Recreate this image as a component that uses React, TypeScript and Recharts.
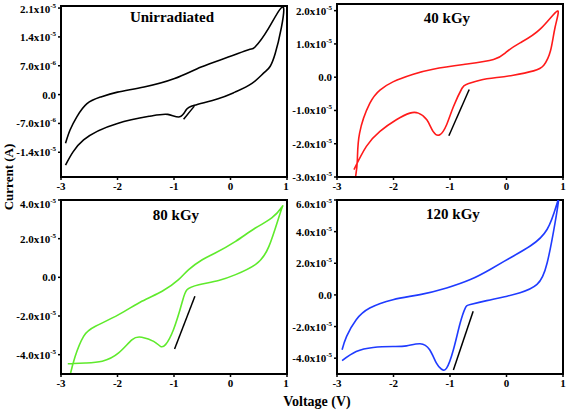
import React from "react";
import { LineChart, Line, XAxis, YAxis, ReferenceArea } from "recharts";

// Voltage (V) / Current (A), loops in scan order
const v0 = [-2.92, -2.6, -2.0, -1.41, -1.11, -0.9, -0.79, -0.64, -0.22, 0.08, 0.38, 0.61, 0.79, 0.94, 0.67, 0.43, 0.32, -0.04, -0.52, -0.99, -1.53, -2.0, -2.3, -2.54, -2.72, -2.84, -2.92];
const i0 = [-17.1e-6, -11.0e-6, -7.0e-6, -5.2e-6, -4.8e-6, -5.4e-6, -3.8e-6, -2.6e-6, -1.0e-6, 0.6e-6, 2.7e-6, 5.5e-6, 9.9e-6, 21.0e-6, 16.0e-6, 11.5e-6, 10.9e-6, 9.1e-6, 6.7e-6, 3.9e-6, 1.85e-6, 0.6e-6, -0.6e-6, -2.2e-6, -5.4e-6, -8.6e-6, -11.8e-6];
const arrowV0 = [-0.83, -0.64];
const arrowI0 = [-6.0e-6, -2.8e-6];

const v40 = [-2.67, -2.64, -2.6, -2.42, -2.24, -2.01, -1.65, -1.3, -0.76, -0.23, 0.0, 0.24, 0.6, 0.9, 0.86, 0.78, 0.66, 0.48, 0.12, -0.17, -0.47, -0.7, -0.79, -0.94, -1.06, -1.18, -1.3, -1.41, -1.56, -1.71, -1.95, -2.24, -2.48, -2.7];
const i40 = [-2.98e-5, -2.5e-5, -1.68e-5, -0.79e-5, -0.39e-5, -0.14e-5, 0.09e-5, 0.24e-5, 0.38e-5, 0.53e-5, 0.76e-5, 1.03e-5, 1.45e-5, 1.99e-5, 1.5e-5, 0.8e-5, 0.36e-5, 0.19e-5, 0.06e-5, -0.01e-5, -0.09e-5, -0.21e-5, -0.34e-5, -0.89e-5, -1.43e-5, -1.73e-5, -1.63e-5, -1.28e-5, -1.08e-5, -1.08e-5, -1.28e-5, -1.63e-5, -2.08e-5, -2.78e-5];
const arrowV40 = [-0.66, -1.02];
const arrowI40 = [-0.37e-5, -1.76e-5];

const v80 = [-2.83, -2.75, -2.6, -2.39, -1.98, -1.57, -1.21, -0.92, -0.74, -0.5, -0.27, 0.09, 0.44, 0.73, 0.91, 0.88, 0.68, 0.44, 0.09, -0.21, -0.56, -0.77, -0.86, -1.01, -1.15, -1.24, -1.36, -1.57, -1.74, -1.98, -2.27, -2.57, -2.88];
const i80 = [-4.95e-5, -4.09e-5, -3.05e-5, -2.53e-5, -1.93e-5, -1.24e-5, -0.72e-5, -0.12e-5, 0.4e-5, 0.91e-5, 1.26e-5, 1.86e-5, 2.55e-5, 3.07e-5, 3.64e-5, 3.33e-5, 1.6e-5, 0.66e-5, 0.14e-5, -0.16e-5, -0.38e-5, -0.64e-5, -1.33e-5, -2.71e-5, -3.48e-5, -3.57e-5, -3.31e-5, -3.1e-5, -3.22e-5, -3.91e-5, -4.34e-5, -4.43e-5, -4.47e-5];
const arrowV80 = [-0.63, -0.99];
const arrowI80 = [-0.98e-5, -3.71e-5];

const v120 = [-2.91, -2.83, -2.66, -2.42, -2.01, -1.53, -1.06, -0.64, -0.29, 0.07, 0.42, 0.72, 0.89, 0.92, 0.86, 0.72, 0.54, 0.24, 0.01, -0.35, -0.64, -0.73, -0.82, -0.94, -1.06, -1.15, -1.24, -1.36, -1.53, -1.77, -2.01, -2.36, -2.66, -2.91];
const i120 = [-3.47e-5, -2.62e-5, -1.57e-5, -0.83e-5, -0.3e-5, 0.02e-5, 0.44e-5, 0.97e-5, 1.61e-5, 2.35e-5, 3.09e-5, 4.15e-5, 5.74e-5, 5.95e-5, 4.57e-5, 2.03e-5, 0.66e-5, 0.13e-5, -0.08e-5, -0.36e-5, -0.61e-5, -0.83e-5, -1.78e-5, -3.47e-5, -4.63e-5, -4.7e-5, -4.32e-5, -3.47e-5, -3.09e-5, -3.22e-5, -3.26e-5, -3.32e-5, -3.58e-5, -4.15e-5];
const arrowV120 = [-0.59, -0.94];
const arrowI120 = [-1.04e-5, -4.74e-5];

const xTicks = [-3, -2, -1, 0, 1];
const yTicks0 = [-1.4e-5, -7.0e-6, 0, 7.0e-6, 1.4e-5, 2.1e-5];
const yTicks40 = [-3.0e-5, -2.0e-5, -1.0e-5, 0, 1.0e-5, 2.0e-5];
const yTicks80 = [-4.0e-5, -2.0e-5, 0, 2.0e-5, 4.0e-5];
const yTicks120 = [-4.0e-5, -2.0e-5, 0, 2.0e-5, 4.0e-5, 6.0e-5];

const titles = ["Unirradiated", "40 kGy", "80 kGy", "120 kGy"];
const FONT = "'Liberation Serif', 'Times New Roman', serif";

const zip = (xs: number[], ys: number[]) => xs.map((x, k) => ({ v: x, i: ys[k] }));

function fmt(val: number) {
  if (Math.abs(val) < 1e-12) return { m: "0.0", e: "" };
  const e = Math.floor(Math.log10(Math.abs(val)) + 1e-9);
  const m = (val / Math.pow(10, e)).toFixed(1);
  return { m: m + "x10", e: String(e) };
}

const YTick = (props: any) => {
  const { x, y, payload } = props;
  const f = fmt(payload.value);
  return (
    <text x={x} y={y + 4} textAnchor="end" fontFamily={FONT} fontWeight="bold" fontSize={11} fill="#000">
      {f.m}
      {f.e && (
        <tspan dy={-5} fontSize={7}>
          {f.e}
        </tspan>
      )}
    </text>
  );
};

const XTick = (props: any) => {
  const { x, y, payload } = props;
  return (
    <text x={x} y={y + 8} textAnchor="middle" fontFamily={FONT} fontWeight="bold" fontSize={11} fill="#000">
      {payload.value}
    </text>
  );
};

type PanelProps = {
  left: number;
  top: number;
  width: number;
  height: number;
  yAxisW: number;
  xAxisH: number;
  mTop: number;
  mRight: number;
  domain: [number, number];
  yTicks: number[];
  data: { v: number; i: number }[];
  arrow: { v: number; i: number }[];
  color: string;
  title: string;
  titleX: number;
  titleY: number;
};

function Panel(p: PanelProps) {
  return (
    <div style={{ position: "absolute", left: p.left, top: p.top }}>
      <LineChart width={p.width} height={p.height} margin={{ top: p.mTop, right: p.mRight, left: 0, bottom: 0 }}>
        <XAxis
          dataKey="v"
          type="number"
          domain={[-3, 1]}
          ticks={xTicks}
          allowDataOverflow
          height={p.xAxisH}
          tick={<XTick />}
          tickLine={{ stroke: "#000", strokeWidth: 1.5 }}
          tickSize={3}
          axisLine={{ stroke: "#000", strokeWidth: 2 }}
        />
        <YAxis
          dataKey="i"
          type="number"
          domain={p.domain}
          ticks={p.yTicks}
          allowDataOverflow
          width={p.yAxisW}
          tick={<YTick />}
          tickLine={{ stroke: "#000", strokeWidth: 1.5 }}
          tickSize={3}
          axisLine={{ stroke: "#000", strokeWidth: 2 }}
        />
        <ReferenceArea x1={-3} x2={1} y1={p.domain[0]} y2={p.domain[1]} fill="none" stroke="#000" strokeWidth={2} ifOverflow="visible" />
        <Line data={p.data} dataKey="i" type="natural" stroke={p.color} strokeWidth={1.6} dot={false} isAnimationActive={false} />
        <Line data={p.arrow} dataKey="i" type="linear" stroke="#000" strokeWidth={1.5} dot={false} isAnimationActive={false} />
      </LineChart>
      <svg style={{ position: "absolute", left: 0, top: 0, pointerEvents: "none" }} width={p.width} height={p.height}>
        <text x={p.titleX} y={p.titleY} textAnchor="middle" fontFamily={FONT} fontWeight="bold" fontSize={15} fill="#000">
          {p.title}
        </text>
      </svg>
    </div>
  );
}

export default function App() {
  return (
    <div style={{ position: "absolute", left: 0, top: 0, width: 567, height: 411, background: "#fff" }}>
      <Panel left={0} top={0} width={290} height={195} yAxisW={61} xAxisH={18} mTop={6} mRight={3}
        domain={[-2.0e-5, 2.15e-5]} yTicks={yTicks0} data={zip(v0, i0)} arrow={zip(arrowV0, arrowI0)}
        color="#000" title={titles[0]} titleX={172} titleY={22} />
      <Panel left={280} top={0} width={287} height={195} yAxisW={57} xAxisH={18} mTop={4} mRight={4}
        domain={[-3.0e-5, 2.2e-5]} yTicks={yTicks40} data={zip(v40, i40)} arrow={zip(arrowV40, arrowI40)}
        color="#ff1a1a" title={titles[1]} titleX={167} titleY={23} />
      <Panel left={0} top={195} width={290} height={198} yAxisW={61} xAxisH={19} mTop={5} mRight={3}
        domain={[-5.0e-5, 4.0e-5]} yTicks={yTicks80} data={zip(v80, i80)} arrow={zip(arrowV80, arrowI80)}
        color="#5fea2c" title={titles[2]} titleX={176} titleY={25} />
      <Panel left={280} top={195} width={287} height={198} yAxisW={57} xAxisH={19} mTop={5} mRight={4}
        domain={[-5.0e-5, 6.0e-5]} yTicks={yTicks120} data={zip(v120, i120)} arrow={zip(arrowV120, arrowI120)}
        color="#1f3bff" title={titles[3]} titleX={173} titleY={24} />
      <svg style={{ position: "absolute", left: 0, top: 0, pointerEvents: "none" }} width={567} height={411}>
        <text x={0} y={0} transform="translate(13,177) rotate(-90)" textAnchor="middle" fontFamily={FONT} fontWeight="bold" fontSize={13} fill="#000">
          Current (A)
        </text>
        <text x={317} y={406} textAnchor="middle" fontFamily={FONT} fontWeight="bold" fontSize={14} fill="#000">
          Voltage (V)
        </text>
      </svg>
    </div>
  );
}
